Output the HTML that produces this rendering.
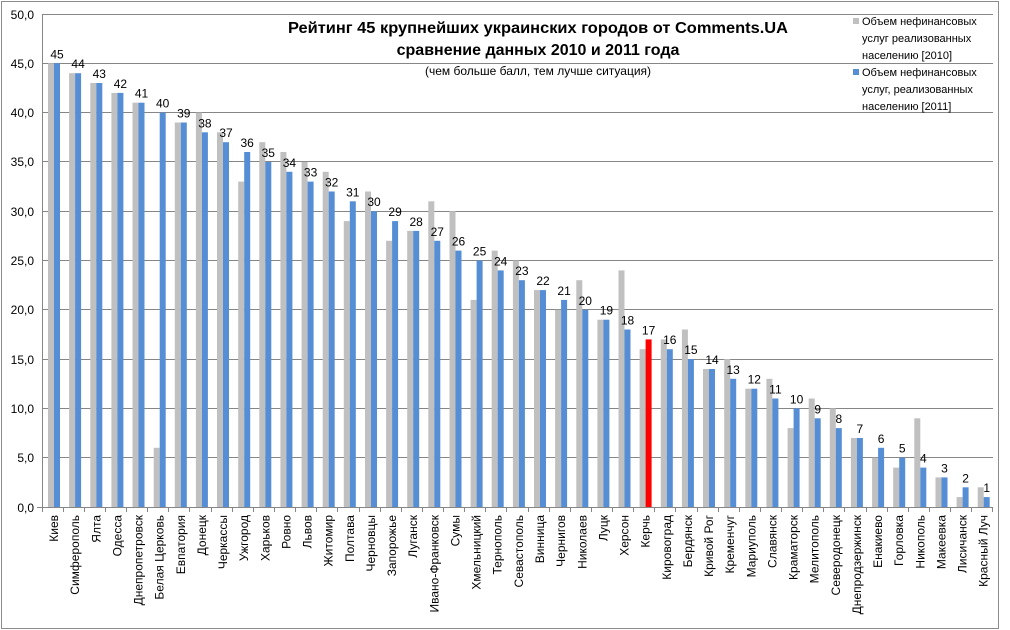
<!DOCTYPE html>
<html><head><meta charset="utf-8"><style>
html,body{margin:0;padding:0;background:#fff}
svg{display:block;font-family:"Liberation Sans",sans-serif}
.v{font-size:12px;text-anchor:middle;fill:#000}
.c{font-size:12px;text-anchor:end;fill:#000}
.y{font-size:12px;text-anchor:end;fill:#000}
.g{fill:#c0c0c0}.b{fill:#558ed5}
</style></head><body>
<svg width="1010" height="630" viewBox="0 0 1010 630">
<rect x="1.5" y="1.5" width="997" height="627" fill="#fff" stroke="#8c8c8c"/>
<g stroke="#868686" stroke-width="1">
<line x1="42" y1="14.5" x2="993" y2="14.5"/><line x1="42" y1="63.5" x2="993" y2="63.5"/><line x1="42" y1="112.5" x2="993" y2="112.5"/><line x1="42" y1="161.5" x2="993" y2="161.5"/><line x1="42" y1="211.5" x2="993" y2="211.5"/><line x1="42" y1="260.5" x2="993" y2="260.5"/><line x1="42" y1="309.5" x2="993" y2="309.5"/><line x1="42" y1="359.5" x2="993" y2="359.5"/><line x1="42" y1="408.5" x2="993" y2="408.5"/><line x1="42" y1="457.5" x2="993" y2="457.5"/><line x1="37" y1="507.5" x2="993" y2="507.5"/>
<line x1="42.5" y1="14" x2="42.5" y2="507"/>
</g>
<g class="y">
<text x="34" y="19" class="y">50,0</text><text x="34" y="68" class="y">45,0</text><text x="34" y="117" class="y">40,0</text><text x="34" y="166" class="y">35,0</text><text x="34" y="216" class="y">30,0</text><text x="34" y="265" class="y">25,0</text><text x="34" y="314" class="y">20,0</text><text x="34" y="364" class="y">15,0</text><text x="34" y="413" class="y">10,0</text><text x="34" y="462" class="y">5,0</text><text x="34" y="512" class="y">0,0</text>
</g>
<text x="538" y="33" font-size="16" font-weight="bold" text-anchor="middle" textLength="500" lengthAdjust="spacingAndGlyphs">Рейтинг 45 крупнейших украинских городов от Comments.UA</text>
<text x="538" y="55" font-size="16" font-weight="bold" text-anchor="middle">сравнение данных 2010 и 2011 года</text>
<text x="538" y="75" font-size="12" text-anchor="middle">(чем больше балл, тем лучше ситуация)</text>
<g font-size="11">
<rect x="853" y="18" width="6" height="6" class="g"/>
<text x="862" y="25">Объем нефинансовых</text><text x="862" y="42">услуг реализованных</text><text x="862" y="59">населению [2010]</text>
<rect x="853" y="69" width="6" height="6" class="b"/>
<text x="862" y="76">Объем нефинансовых</text><text x="862" y="93">услуг, реализованных</text><text x="862" y="110">населению [2011]</text>
</g>
<g transform="translate(42,507)"><rect x="6" y="-443.7" width="6" height="443.7" class="g"/><rect x="12" y="-443.7" width="6" height="443.7" class="b"/><text x="15" y="-448.7" class="v">45</text><text transform="translate(16,8) rotate(-90)" class="c">Киев</text></g>
<g transform="translate(63.1,507)"><rect x="6" y="-433.8" width="6" height="433.8" class="g"/><rect x="12" y="-433.8" width="6" height="433.8" class="b"/><text x="15" y="-438.8" class="v">44</text><text transform="translate(16,8) rotate(-90)" class="c">Симферополь</text></g>
<g transform="translate(84.3,507)"><rect x="6" y="-424" width="6" height="424" class="g"/><rect x="12" y="-424" width="6" height="424" class="b"/><text x="15" y="-429" class="v">43</text><text transform="translate(16,8) rotate(-90)" class="c">Ялта</text></g>
<g transform="translate(105.4,507)"><rect x="6" y="-414.1" width="6" height="414.1" class="g"/><rect x="12" y="-414.1" width="6" height="414.1" class="b"/><text x="15" y="-419.1" class="v">42</text><text transform="translate(16,8) rotate(-90)" class="c">Одесса</text></g>
<g transform="translate(126.5,507)"><rect x="6" y="-404.3" width="6" height="404.3" class="g"/><rect x="12" y="-404.3" width="6" height="404.3" class="b"/><text x="15" y="-409.3" class="v">41</text><text transform="translate(16,8) rotate(-90)" class="c">Днепропетровск</text></g>
<g transform="translate(147.7,507)"><rect x="6" y="-59.2" width="6" height="59.2" class="g"/><rect x="12" y="-394.4" width="6" height="394.4" class="b"/><text x="15" y="-399.4" class="v">40</text><text transform="translate(16,8) rotate(-90)" class="c">Белая Церковь</text></g>
<g transform="translate(168.8,507)"><rect x="6" y="-384.5" width="6" height="384.5" class="g"/><rect x="12" y="-384.5" width="6" height="384.5" class="b"/><text x="15" y="-389.5" class="v">39</text><text transform="translate(16,8) rotate(-90)" class="c">Евпатория</text></g>
<g transform="translate(189.9,507)"><rect x="6" y="-394.4" width="6" height="394.4" class="g"/><rect x="12" y="-374.7" width="6" height="374.7" class="b"/><text x="15" y="-379.7" class="v">38</text><text transform="translate(16,8) rotate(-90)" class="c">Донецк</text></g>
<g transform="translate(211,507)"><rect x="6" y="-374.7" width="6" height="374.7" class="g"/><rect x="12" y="-364.8" width="6" height="364.8" class="b"/><text x="15" y="-369.8" class="v">37</text><text transform="translate(16,8) rotate(-90)" class="c">Черкассы</text></g>
<g transform="translate(232.2,507)"><rect x="6" y="-325.4" width="6" height="325.4" class="g"/><rect x="12" y="-355" width="6" height="355" class="b"/><text x="15" y="-360" class="v">36</text><text transform="translate(16,8) rotate(-90)" class="c">Ужгород</text></g>
<g transform="translate(253.3,507)"><rect x="6" y="-364.8" width="6" height="364.8" class="g"/><rect x="12" y="-345.1" width="6" height="345.1" class="b"/><text x="15" y="-350.1" class="v">35</text><text transform="translate(16,8) rotate(-90)" class="c">Харьков</text></g>
<g transform="translate(274.4,507)"><rect x="6" y="-355" width="6" height="355" class="g"/><rect x="12" y="-335.2" width="6" height="335.2" class="b"/><text x="15" y="-340.2" class="v">34</text><text transform="translate(16,8) rotate(-90)" class="c">Ровно</text></g>
<g transform="translate(295.6,507)"><rect x="6" y="-345.1" width="6" height="345.1" class="g"/><rect x="12" y="-325.4" width="6" height="325.4" class="b"/><text x="15" y="-330.4" class="v">33</text><text transform="translate(16,8) rotate(-90)" class="c">Львов</text></g>
<g transform="translate(316.7,507)"><rect x="6" y="-335.2" width="6" height="335.2" class="g"/><rect x="12" y="-315.5" width="6" height="315.5" class="b"/><text x="15" y="-320.5" class="v">32</text><text transform="translate(16,8) rotate(-90)" class="c">Житомир</text></g>
<g transform="translate(337.8,507)"><rect x="6" y="-285.9" width="6" height="285.9" class="g"/><rect x="12" y="-305.7" width="6" height="305.7" class="b"/><text x="15" y="-310.7" class="v">31</text><text transform="translate(16,8) rotate(-90)" class="c">Полтава</text></g>
<g transform="translate(359,507)"><rect x="6" y="-315.5" width="6" height="315.5" class="g"/><rect x="12" y="-295.8" width="6" height="295.8" class="b"/><text x="15" y="-300.8" class="v">30</text><text transform="translate(16,8) rotate(-90)" class="c">Черновцы</text></g>
<g transform="translate(380.1,507)"><rect x="6" y="-266.2" width="6" height="266.2" class="g"/><rect x="12" y="-285.9" width="6" height="285.9" class="b"/><text x="15" y="-290.9" class="v">29</text><text transform="translate(16,8) rotate(-90)" class="c">Запорожье</text></g>
<g transform="translate(401.2,507)"><rect x="6" y="-276.1" width="6" height="276.1" class="g"/><rect x="12" y="-276.1" width="6" height="276.1" class="b"/><text x="15" y="-281.1" class="v">28</text><text transform="translate(16,8) rotate(-90)" class="c">Луганск</text></g>
<g transform="translate(422.3,507)"><rect x="6" y="-305.7" width="6" height="305.7" class="g"/><rect x="12" y="-266.2" width="6" height="266.2" class="b"/><text x="15" y="-271.2" class="v">27</text><text transform="translate(16,8) rotate(-90)" class="c">Ивано-Франковск</text></g>
<g transform="translate(443.5,507)"><rect x="6" y="-295.8" width="6" height="295.8" class="g"/><rect x="12" y="-256.4" width="6" height="256.4" class="b"/><text x="15" y="-261.4" class="v">26</text><text transform="translate(16,8) rotate(-90)" class="c">Сумы</text></g>
<g transform="translate(464.6,507)"><rect x="6" y="-207.1" width="6" height="207.1" class="g"/><rect x="12" y="-246.5" width="6" height="246.5" class="b"/><text x="15" y="-251.5" class="v">25</text><text transform="translate(16,8) rotate(-90)" class="c">Хмельницкий</text></g>
<g transform="translate(485.7,507)"><rect x="6" y="-256.4" width="6" height="256.4" class="g"/><rect x="12" y="-236.6" width="6" height="236.6" class="b"/><text x="15" y="-241.6" class="v">24</text><text transform="translate(16,8) rotate(-90)" class="c">Тернополь</text></g>
<g transform="translate(506.9,507)"><rect x="6" y="-246.5" width="6" height="246.5" class="g"/><rect x="12" y="-226.8" width="6" height="226.8" class="b"/><text x="15" y="-231.8" class="v">23</text><text transform="translate(16,8) rotate(-90)" class="c">Севастополь</text></g>
<g transform="translate(528,507)"><rect x="6" y="-216.9" width="6" height="216.9" class="g"/><rect x="12" y="-216.9" width="6" height="216.9" class="b"/><text x="15" y="-221.9" class="v">22</text><text transform="translate(16,8) rotate(-90)" class="c">Винница</text></g>
<g transform="translate(549.1,507)"><rect x="6" y="-197.2" width="6" height="197.2" class="g"/><rect x="12" y="-207.1" width="6" height="207.1" class="b"/><text x="15" y="-212.1" class="v">21</text><text transform="translate(16,8) rotate(-90)" class="c">Чернигов</text></g>
<g transform="translate(570.3,507)"><rect x="6" y="-226.8" width="6" height="226.8" class="g"/><rect x="12" y="-197.2" width="6" height="197.2" class="b"/><text x="15" y="-202.2" class="v">20</text><text transform="translate(16,8) rotate(-90)" class="c">Николаев</text></g>
<g transform="translate(591.4,507)"><rect x="6" y="-187.3" width="6" height="187.3" class="g"/><rect x="12" y="-187.3" width="6" height="187.3" class="b"/><text x="15" y="-192.3" class="v">19</text><text transform="translate(16,8) rotate(-90)" class="c">Луцк</text></g>
<g transform="translate(612.5,507)"><rect x="6" y="-236.6" width="6" height="236.6" class="g"/><rect x="12" y="-177.5" width="6" height="177.5" class="b"/><text x="15" y="-182.5" class="v">18</text><text transform="translate(16,8) rotate(-90)" class="c">Херсон</text></g>
<g transform="translate(633.6,507)"><rect x="6" y="-157.8" width="6" height="157.8" class="g"/><rect x="12" y="-167.6" width="6" height="167.6" fill="#ff0000"/><text x="15" y="-172.6" class="v">17</text><text transform="translate(16,8) rotate(-90)" class="c">Керчь</text></g>
<g transform="translate(654.8,507)"><rect x="6" y="-167.6" width="6" height="167.6" class="g"/><rect x="12" y="-157.8" width="6" height="157.8" class="b"/><text x="15" y="-162.8" class="v">16</text><text transform="translate(16,8) rotate(-90)" class="c">Кировоград</text></g>
<g transform="translate(675.9,507)"><rect x="6" y="-177.5" width="6" height="177.5" class="g"/><rect x="12" y="-147.9" width="6" height="147.9" class="b"/><text x="15" y="-152.9" class="v">15</text><text transform="translate(16,8) rotate(-90)" class="c">Бердянск</text></g>
<g transform="translate(697,507)"><rect x="6" y="-138" width="6" height="138" class="g"/><rect x="12" y="-138" width="6" height="138" class="b"/><text x="15" y="-143" class="v">14</text><text transform="translate(16,8) rotate(-90)" class="c">Кривой Рог</text></g>
<g transform="translate(718.2,507)"><rect x="6" y="-147.9" width="6" height="147.9" class="g"/><rect x="12" y="-128.2" width="6" height="128.2" class="b"/><text x="15" y="-133.2" class="v">13</text><text transform="translate(16,8) rotate(-90)" class="c">Кременчуг</text></g>
<g transform="translate(739.3,507)"><rect x="6" y="-118.3" width="6" height="118.3" class="g"/><rect x="12" y="-118.3" width="6" height="118.3" class="b"/><text x="15" y="-123.3" class="v">12</text><text transform="translate(16,8) rotate(-90)" class="c">Мариуполь</text></g>
<g transform="translate(760.4,507)"><rect x="6" y="-128.2" width="6" height="128.2" class="g"/><rect x="12" y="-108.5" width="6" height="108.5" class="b"/><text x="15" y="-113.5" class="v">11</text><text transform="translate(16,8) rotate(-90)" class="c">Славянск</text></g>
<g transform="translate(781.6,507)"><rect x="6" y="-78.9" width="6" height="78.9" class="g"/><rect x="12" y="-98.6" width="6" height="98.6" class="b"/><text x="15" y="-103.6" class="v">10</text><text transform="translate(16,8) rotate(-90)" class="c">Краматорск</text></g>
<g transform="translate(802.7,507)"><rect x="6" y="-108.5" width="6" height="108.5" class="g"/><rect x="12" y="-88.7" width="6" height="88.7" class="b"/><text x="15" y="-93.7" class="v">9</text><text transform="translate(16,8) rotate(-90)" class="c">Мелитополь</text></g>
<g transform="translate(823.8,507)"><rect x="6" y="-98.6" width="6" height="98.6" class="g"/><rect x="12" y="-78.9" width="6" height="78.9" class="b"/><text x="15" y="-83.9" class="v">8</text><text transform="translate(16,8) rotate(-90)" class="c">Северодонецк</text></g>
<g transform="translate(844.9,507)"><rect x="6" y="-69" width="6" height="69" class="g"/><rect x="12" y="-69" width="6" height="69" class="b"/><text x="15" y="-74" class="v">7</text><text transform="translate(16,8) rotate(-90)" class="c">Днепродзержинск</text></g>
<g transform="translate(866.1,507)"><rect x="6" y="-49.3" width="6" height="49.3" class="g"/><rect x="12" y="-59.2" width="6" height="59.2" class="b"/><text x="15" y="-64.2" class="v">6</text><text transform="translate(16,8) rotate(-90)" class="c">Енакиево</text></g>
<g transform="translate(887.2,507)"><rect x="6" y="-39.4" width="6" height="39.4" class="g"/><rect x="12" y="-49.3" width="6" height="49.3" class="b"/><text x="15" y="-54.3" class="v">5</text><text transform="translate(16,8) rotate(-90)" class="c">Горловка</text></g>
<g transform="translate(908.3,507)"><rect x="6" y="-88.7" width="6" height="88.7" class="g"/><rect x="12" y="-39.4" width="6" height="39.4" class="b"/><text x="15" y="-44.4" class="v">4</text><text transform="translate(16,8) rotate(-90)" class="c">Никополь</text></g>
<g transform="translate(929.5,507)"><rect x="6" y="-29.6" width="6" height="29.6" class="g"/><rect x="12" y="-29.6" width="6" height="29.6" class="b"/><text x="15" y="-34.6" class="v">3</text><text transform="translate(16,8) rotate(-90)" class="c">Макеевка</text></g>
<g transform="translate(950.6,507)"><rect x="6" y="-9.9" width="6" height="9.9" class="g"/><rect x="12" y="-19.7" width="6" height="19.7" class="b"/><text x="15" y="-24.7" class="v">2</text><text transform="translate(16,8) rotate(-90)" class="c">Лисичанск</text></g>
<g transform="translate(971.7,507)"><rect x="6" y="-19.7" width="6" height="19.7" class="g"/><rect x="12" y="-9.9" width="6" height="9.9" class="b"/><text x="15" y="-14.9" class="v">1</text><text transform="translate(16,8) rotate(-90)" class="c">Красный Луч</text></g>
<g stroke="#868686">
<line x1="42.5" y1="507" x2="42.5" y2="512"/><line x1="63.5" y1="507" x2="63.5" y2="512"/><line x1="84.5" y1="507" x2="84.5" y2="512"/><line x1="105.5" y1="507" x2="105.5" y2="512"/><line x1="126.5" y1="507" x2="126.5" y2="512"/><line x1="147.5" y1="507" x2="147.5" y2="512"/><line x1="168.5" y1="507" x2="168.5" y2="512"/><line x1="189.5" y1="507" x2="189.5" y2="512"/><line x1="211.5" y1="507" x2="211.5" y2="512"/><line x1="232.5" y1="507" x2="232.5" y2="512"/><line x1="253.5" y1="507" x2="253.5" y2="512"/><line x1="274.5" y1="507" x2="274.5" y2="512"/><line x1="295.5" y1="507" x2="295.5" y2="512"/><line x1="316.5" y1="507" x2="316.5" y2="512"/><line x1="337.5" y1="507" x2="337.5" y2="512"/><line x1="359.5" y1="507" x2="359.5" y2="512"/><line x1="380.5" y1="507" x2="380.5" y2="512"/><line x1="401.5" y1="507" x2="401.5" y2="512"/><line x1="422.5" y1="507" x2="422.5" y2="512"/><line x1="443.5" y1="507" x2="443.5" y2="512"/><line x1="464.5" y1="507" x2="464.5" y2="512"/><line x1="485.5" y1="507" x2="485.5" y2="512"/><line x1="506.5" y1="507" x2="506.5" y2="512"/><line x1="528.5" y1="507" x2="528.5" y2="512"/><line x1="549.5" y1="507" x2="549.5" y2="512"/><line x1="570.5" y1="507" x2="570.5" y2="512"/><line x1="591.5" y1="507" x2="591.5" y2="512"/><line x1="612.5" y1="507" x2="612.5" y2="512"/><line x1="633.5" y1="507" x2="633.5" y2="512"/><line x1="654.5" y1="507" x2="654.5" y2="512"/><line x1="675.5" y1="507" x2="675.5" y2="512"/><line x1="697.5" y1="507" x2="697.5" y2="512"/><line x1="718.5" y1="507" x2="718.5" y2="512"/><line x1="739.5" y1="507" x2="739.5" y2="512"/><line x1="760.5" y1="507" x2="760.5" y2="512"/><line x1="781.5" y1="507" x2="781.5" y2="512"/><line x1="802.5" y1="507" x2="802.5" y2="512"/><line x1="823.5" y1="507" x2="823.5" y2="512"/><line x1="844.5" y1="507" x2="844.5" y2="512"/><line x1="866.5" y1="507" x2="866.5" y2="512"/><line x1="887.5" y1="507" x2="887.5" y2="512"/><line x1="908.5" y1="507" x2="908.5" y2="512"/><line x1="929.5" y1="507" x2="929.5" y2="512"/><line x1="950.5" y1="507" x2="950.5" y2="512"/><line x1="971.5" y1="507" x2="971.5" y2="512"/><line x1="992.5" y1="507" x2="992.5" y2="512"/>
</g>
</svg>
</body></html>
